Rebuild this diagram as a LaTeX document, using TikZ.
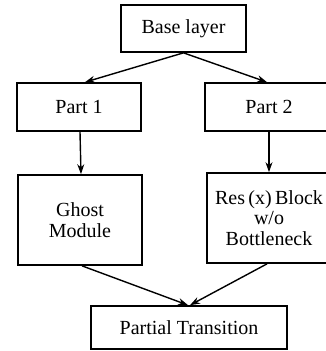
\documentclass[tikz,border=0pt]{standalone}
\usepackage{fontspec}
\setmainfont{Liberation Serif}
\usetikzlibrary{arrows.meta}
\begin{document}
\begin{tikzpicture}[x=1pt,y=-1pt,
  box/.style={draw, line width=1.7pt, align=center, inner sep=0pt,
    font=\fontsize{20}{20.5}\selectfont},
  flow/.style={line width=1.4pt, -{Stealth[length=10pt,width=7pt]}}]
  \useasboundingbox (0,0) rectangle (326,351);
  \clip (0,0) rectangle (326,351);

  % boxes
  \node[box, minimum width=125pt, minimum height=47pt] (base) at (183.5,28.5) {Base layer};
  \node[box, minimum width=124pt, minimum height=48pt] (p1) at (79,107) {Part 1};
  \node[box, minimum width=128pt, minimum height=48pt] (p2) at (269,107) {Part 2};
  \node[box, minimum width=124pt, minimum height=90pt] (ghost) at (80,220) {Ghost\\Module};
  \node[box, minimum width=124pt, minimum height=90pt] (res) at (269,218) {Res\,(x)\,Block\\w/o\\Bottleneck};
  \node[box, minimum width=196pt, minimum height=43pt] (pt) at (189,327.5) {Partial Transition};

  % connectors
  \draw[flow] (base.south) -- ([xshift=6pt]p1.north);
  \draw[flow] (base.south) -- ([xshift=-2pt]p2.north);
  \draw[flow] ([xshift=1pt]p1.south) -- ([xshift=1pt]ghost.north);
  \draw[flow] (p2.south) -- (res.north);
  \draw[flow] ([xshift=2pt]ghost.south) -- ([xshift=-1pt]pt.north);
  \draw[flow] ([xshift=-2pt]res.south) -- ([xshift=1pt]pt.north);
\end{tikzpicture}
\end{document}
